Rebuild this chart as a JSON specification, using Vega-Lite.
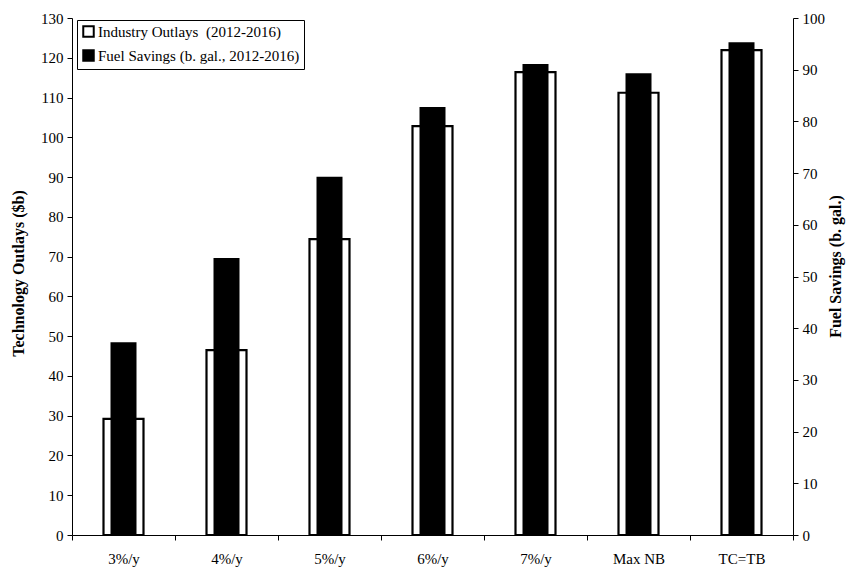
{
  "$schema": "https://vega.github.io/schema/vega-lite/v6.json",
  "autosize": {"type": "none"},
  "width": 721,
  "height": 517,
  "padding": {"left": 72, "top": 18, "right": 62, "bottom": 50},
  "background": "white",
  "config": {
    "view": {"stroke": null},
    "font": "Liberation Serif",
    "axis": {
      "labelFont": "Liberation Serif",
      "titleFont": "Liberation Serif",
      "labelFontSize": 15,
      "titleFontSize": 16,
      "titleFontWeight": "bold",
      "labelColor": "black",
      "titleColor": "black",
      "domainColor": "black",
      "tickColor": "black",
      "grid": false,
      "tickSize": 5
    },
    "legend": {
      "labelFont": "Liberation Serif",
      "labelFontSize": 15,
      "labelColor": "black",
      "labelLimit": 0
    }
  },
  "data": {
    "values": [
      {"scenario": "3%/y", "outlays": 29.2, "savings": 37.3},
      {"scenario": "4%/y", "outlays": 46.5, "savings": 53.6},
      {"scenario": "5%/y", "outlays": 74.4, "savings": 69.3},
      {"scenario": "6%/y", "outlays": 102.8, "savings": 82.8},
      {"scenario": "7%/y", "outlays": 116.4, "savings": 91.1},
      {"scenario": "Max NB", "outlays": 111.2, "savings": 89.3},
      {"scenario": "TC=TB", "outlays": 121.9, "savings": 95.3}
    ]
  },
  "encoding": {
    "x": {
      "field": "scenario",
      "type": "nominal",
      "sort": null,
      "scale": {"paddingInner": 0, "paddingOuter": 0},
      "axis": {
        "title": null,
        "labelAngle": 0,
        "tickBand": "extent",
        "labelPadding": 11
      }
    }
  },
  "layer": [
    {
      "mark": {"type": "bar", "size": 40, "stroke": "black", "strokeWidth": 2.2},
      "encoding": {
        "y": {
          "field": "outlays",
          "type": "quantitative",
          "scale": {"domain": [0, 130], "nice": false},
          "axis": {
            "title": "Technology Outlays ($b)",
            "orient": "left",
            "values": [0,10,20,30,40,50,60,70,80,90,100,110,120,130],
            "titlePadding": 14,
            "titleY": 255,
            "labelPadding": 4
          }
        },
        "fill": {
          "datum": "Industry Outlays \u00a0(2012-2016)",
          "type": "nominal",
          "scale": {
            "domain": ["Industry Outlays \u00a0(2012-2016)", "Fuel Savings (b. gal., 2012-2016)"],
            "range": ["white", "black"]
          },
          "legend": {
            "title": null,
            "orient": "none",
            "legendX": 5,
            "legendY": 2,
            "symbolType": "square",
            "symbolSize": 110,
            "symbolStrokeColor": "black",
            "symbolStrokeWidth": 2,
            "strokeColor": "black",
            "fillColor": "white",
            "padding": 4,
            "rowPadding": 5,
            "labelOffset": 2
          }
        }
      }
    },
    {
      "mark": {"type": "bar", "size": 26, "fill": "black"},
      "encoding": {
        "y": {
          "field": "savings",
          "type": "quantitative",
          "scale": {"domain": [0, 100], "nice": false},
          "axis": {
            "title": "Fuel Savings (b. gal.)",
            "orient": "right",
            "values": [0,10,20,30,40,50,60,70,80,90,100],
            "titleAngle": 270,
            "titlePadding": 19,
            "titleY": 248,
            "labelPadding": 4
          }
        },
        "fill": {"datum": "Fuel Savings (b. gal., 2012-2016)", "type": "nominal"}
      }
    }
  ],
  "resolve": {"scale": {"y": "independent"}}
}
